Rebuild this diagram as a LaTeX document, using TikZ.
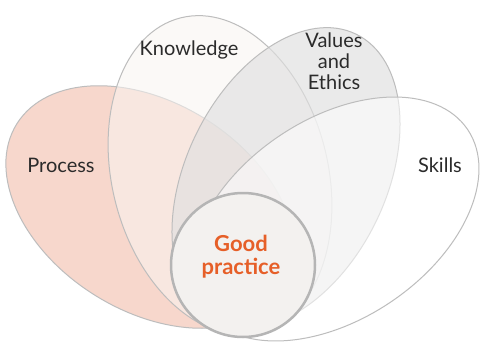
\documentclass[tikz,border=0pt]{standalone}
\usepackage{fontspec}
\setmainfont{Lato}
\begin{document}
\begin{tikzpicture}[x=1pt,y=-1pt,
  petal/.style={draw=strokegray, line width=1pt},
  lbl/.style={text=labeltext, font=\fontsize{20}{21}\selectfont, align=center, inner sep=0pt},
  core/.style={text=coreorange, font=\fontsize{22}{23}\selectfont\bfseries, align=center, inner sep=0pt}]
\definecolor{strokegray}{HTML}{BDBDBD}
\definecolor{circlegray}{HTML}{B5B5B5}
\definecolor{processfill}{HTML}{F7D7CC}
\definecolor{knowfill}{HTML}{F9F5F2}
\definecolor{valuesfill}{HTML}{E0E0E0}
\definecolor{corefill}{HTML}{F3F1EF}
\definecolor{labeltext}{HTML}{2B2B2B}
\definecolor{coreorange}{HTML}{E65F28}
\useasboundingbox (0,0) rectangle (483,341);
\fill[white] (0,0) rectangle (483,341);
% Process
\path[petal, fill=processfill, rotate around={-32:(150,207)}] (150,207) ellipse [x radius=157pt, y radius=104pt];
% Knowledge
\path[petal, fill=knowfill, fill opacity=0.55, rotate around={14:(220,175)}] (220,175) ellipse [x radius=108pt, y radius=162pt];
% Values and Ethics
\path[petal, fill=valuesfill, fill opacity=0.65, rotate around={-26:(286,178)}] (286,178) ellipse [x radius=100pt, y radius=160pt];
% Skills
\path[petal, fill=white, fill opacity=0.55, rotate around={34:(335,219)}] (335,219) ellipse [x radius=160pt, y radius=100pt];
% Good practice circle
\path[draw=circlegray, line width=2.5pt, fill=corefill] (243,265) circle [radius=72pt];
% labels
\node[lbl] (process) at (61,165) {Process};
\node[lbl] (knowledge) at (189,50) {Knowledge};
\node[lbl] (values) at (334,61) {Values\\and\\Ethics};
\node[lbl] (skills) at (440,165) {Skills};
\node[core] (good) at (241,257) {Good\\practice};
\end{tikzpicture}
\end{document}
